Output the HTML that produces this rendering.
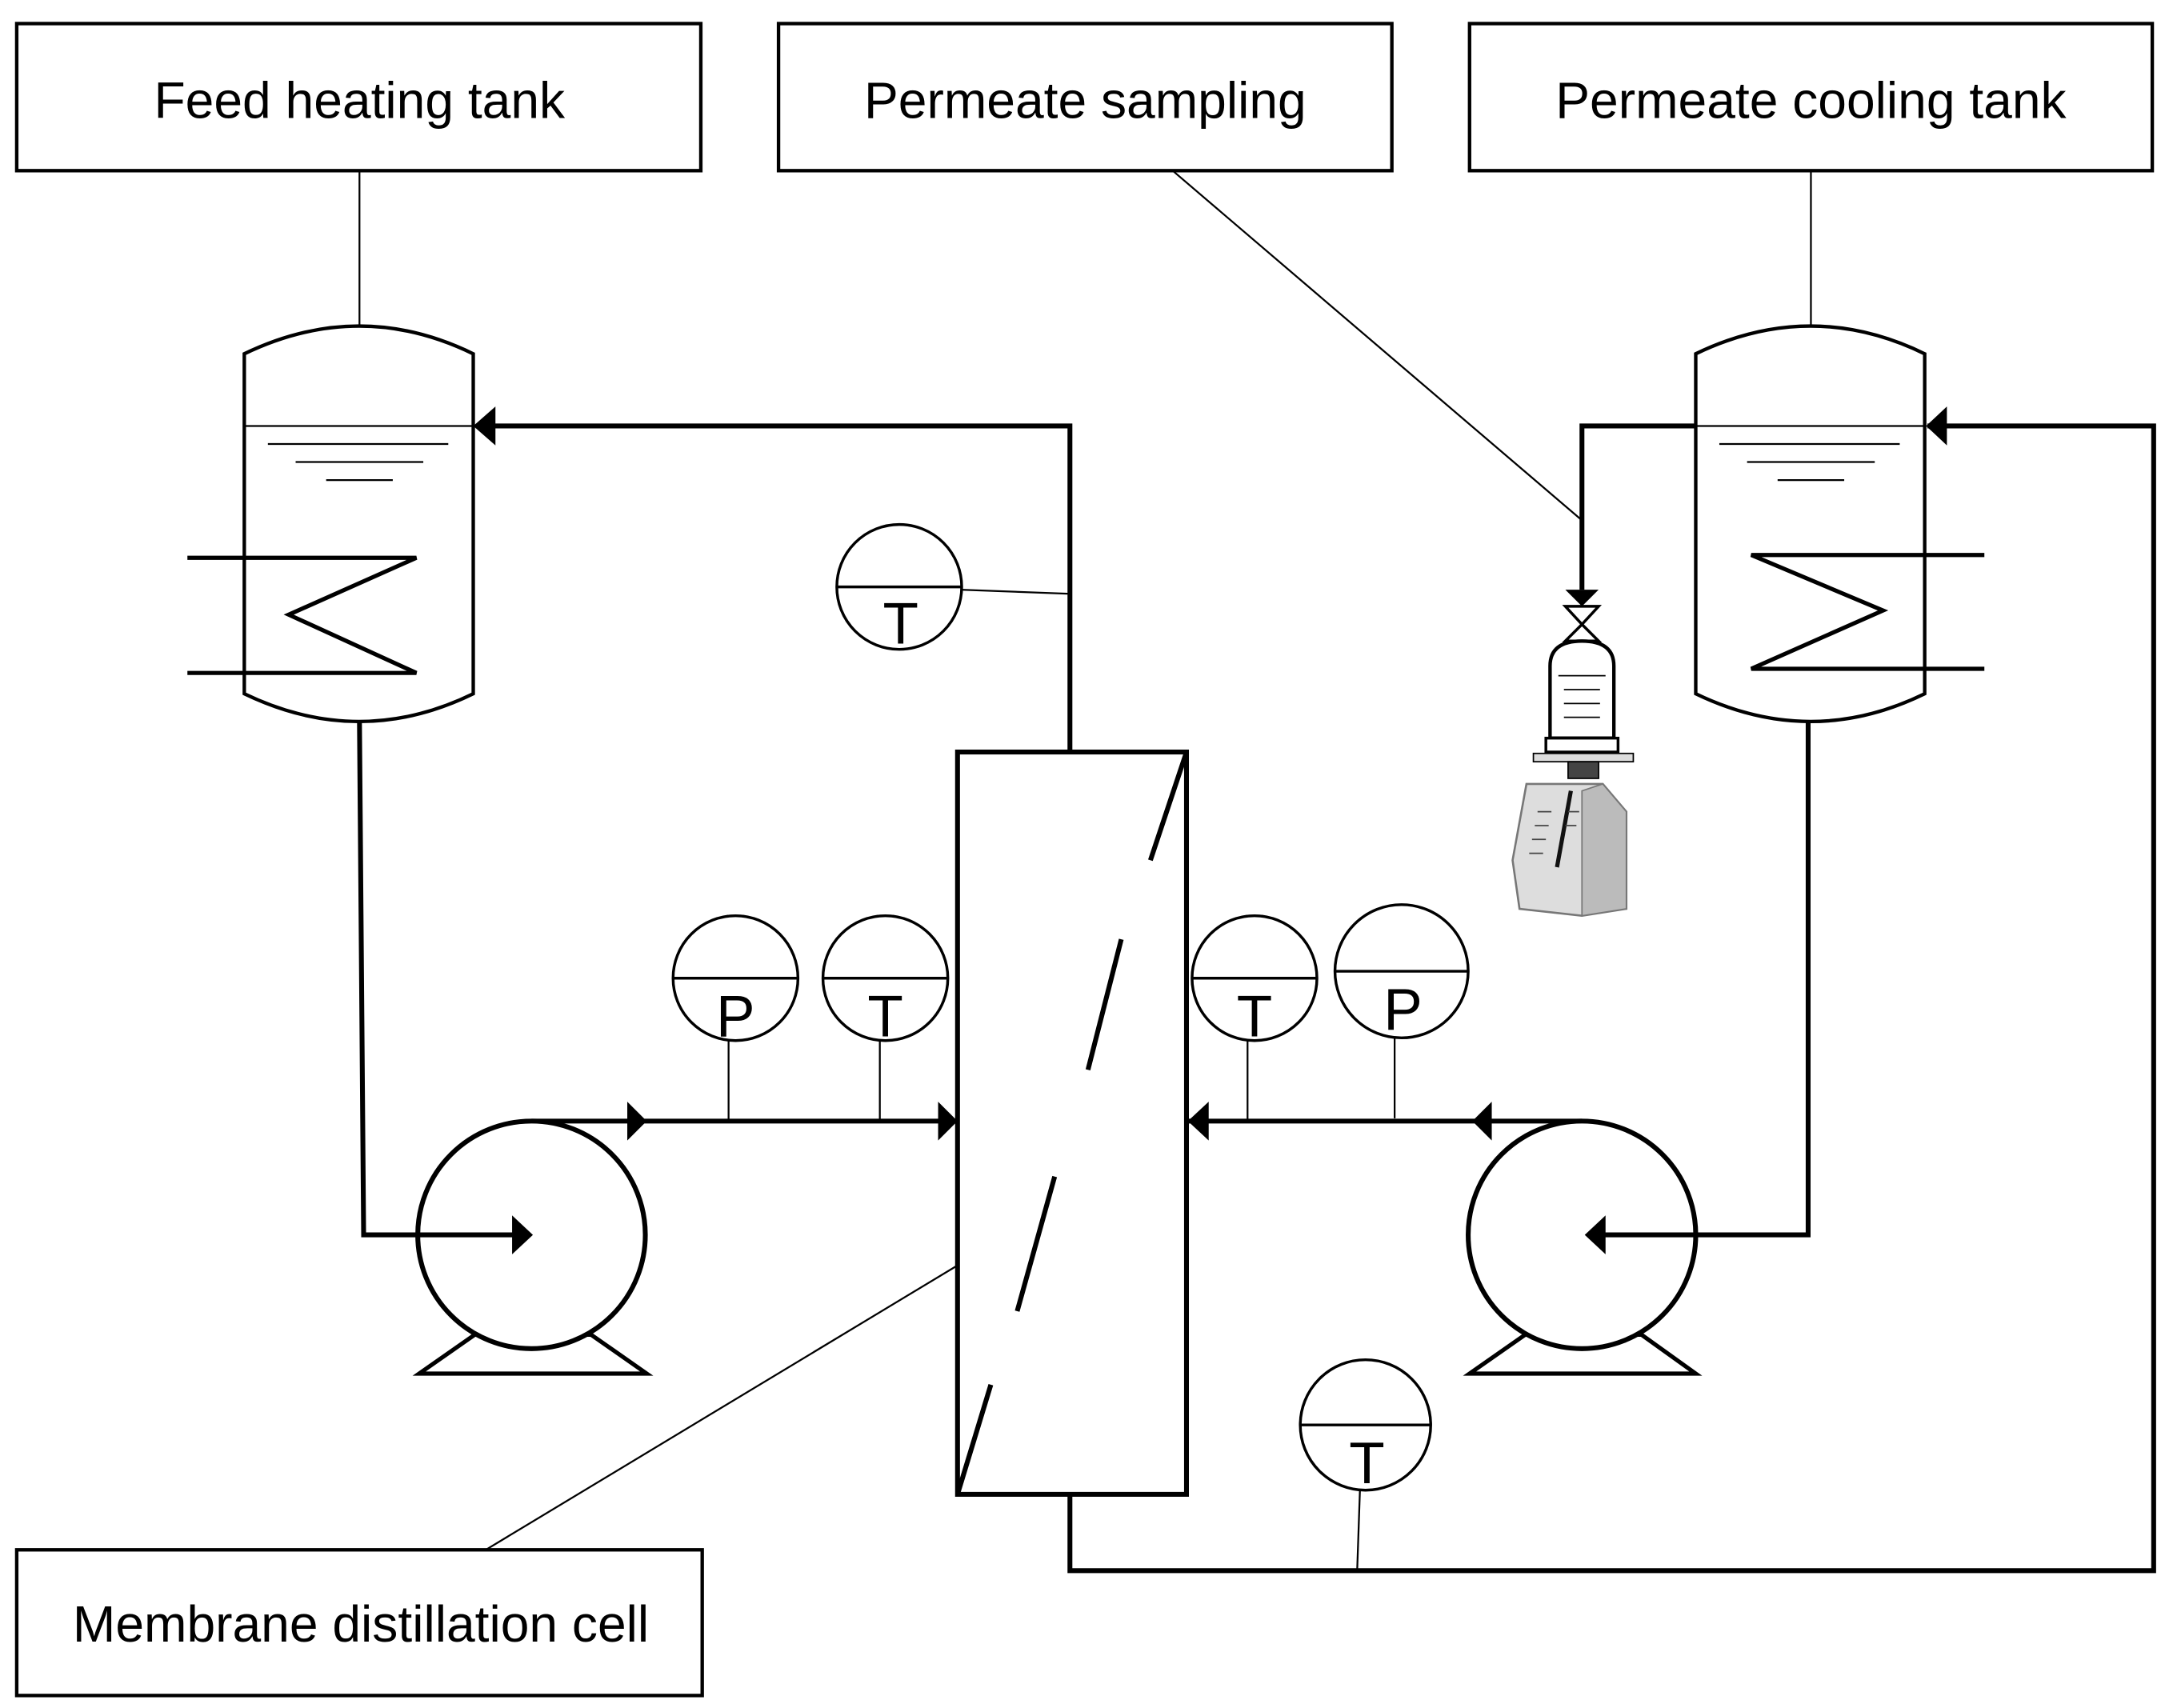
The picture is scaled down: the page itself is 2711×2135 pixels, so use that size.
<!DOCTYPE html>
<html><head><meta charset="utf-8"><style>
html,body{margin:0;padding:0;background:#fff;}
svg{display:block;}
text{font-family:"Liberation Sans",sans-serif;fill:#000;}
</style></head><body>
<svg width="2711" height="2135" viewBox="0 0 1563 1231" xmlns="http://www.w3.org/2000/svg">
<g fill="none" stroke="#000">
<rect x="12" y="17" width="493" height="106" stroke-width="2.5"/>
<rect x="561" y="17" width="442" height="106" stroke-width="2.5"/>
<rect x="1059" y="17" width="492" height="106" stroke-width="2.5"/>
<rect x="12" y="1117" width="494" height="105" stroke-width="2.5"/>
<line x1="259" y1="123" x2="259" y2="235" stroke-width="1.3"/>
<line x1="1305" y1="123" x2="1305" y2="235" stroke-width="1.3"/>
<line x1="845" y1="123" x2="1140" y2="375" stroke-width="1.3"/>
<line x1="690" y1="912" x2="350" y2="1117" stroke-width="1.3"/>
<path d="M176,500 L176,255 Q259,215 341,255 L341,500 Q259,540 176,500 Z" stroke-width="2.5" fill="#fff"/>
<line x1="176" y1="307" x2="341" y2="307" stroke-width="1.3"/>
<line x1="193" y1="320" x2="323" y2="320" stroke-width="1.3"/>
<line x1="213" y1="333" x2="305" y2="333" stroke-width="1.3"/>
<line x1="235" y1="346" x2="283" y2="346" stroke-width="1.3"/>
<path d="M135,402 L300,402 L208,443 L300,485 L135,485" stroke-width="3"/>
<path d="M1222,500 L1222,255 Q1305,215 1387,255 L1387,500 Q1305,540 1222,500 Z" stroke-width="2.5" fill="#fff"/>
<line x1="1222" y1="307" x2="1387" y2="307" stroke-width="1.3"/>
<line x1="1239" y1="320" x2="1369" y2="320" stroke-width="1.3"/>
<line x1="1259" y1="333" x2="1351" y2="333" stroke-width="1.3"/>
<line x1="1281" y1="346" x2="1329" y2="346" stroke-width="1.3"/>
<path d="M1430,400 L1262,400 L1357,440 L1262,482 L1430,482" stroke-width="3"/>
<path d="M771,542 L771,307 L343,307" stroke-width="3.5"/>
<polygon points="357,293 341,307 357,321" fill="#000" stroke="none"/>
<path d="M383,808 L690,808" stroke-width="3.5"/>
<polygon points="452,794 466,808 452,822" fill="#000" stroke="none"/>
<polygon points="676,794 690,808 676,822" fill="#000" stroke="none"/>
<path d="M855,808 L1140,808" stroke-width="3.5"/>
<polygon points="871,794 856,808 871,822" fill="#000" stroke="none"/>
<polygon points="1075,794 1061,808 1075,822" fill="#000" stroke="none"/>
<path d="M771,1077 L771,1132 L1552,1132 L1552,307 L1389,307" stroke-width="3.5"/>
<polygon points="1403,293 1388,307 1403,321" fill="#000" stroke="none"/>
<path d="M1222,307 L1140,307 L1140,425" stroke-width="3.5"/>
<polygon points="1128,425 1152,425 1140,437" fill="#000" stroke="none"/>
<polygon points="302,990 342,962 426,962 466,990" stroke-width="3" fill="#fff"/>
<circle cx="383" cy="890" r="82" stroke-width="3.5" fill="#fff"/>
<polygon points="1059,990 1099,962 1183,962 1222,990" stroke-width="3" fill="#fff"/>
<circle cx="1140" cy="890" r="82" stroke-width="3.5" fill="#fff"/>
<path d="M259,520 L262,890 L372,890" stroke-width="3.5"/>
<polygon points="369,876 384,890 369,904" fill="#000" stroke="none"/>
<path d="M1303,520 L1303,890 L1152,890" stroke-width="3.5"/>
<polygon points="1157,876 1142,890 1157,904" fill="#000" stroke="none"/>
<rect x="690" y="542" width="165" height="535" stroke-width="3.5" fill="#fff"/>
<line x1="855" y1="542" x2="829" y2="620" stroke-width="3.5"/>
<line x1="808" y1="677" x2="784" y2="771" stroke-width="3.5"/>
<line x1="760" y1="848" x2="733" y2="945" stroke-width="3.5"/>
<line x1="714" y1="998" x2="690" y2="1077" stroke-width="3.5"/>
<line x1="692" y1="425" x2="771" y2="428" stroke-width="1.3"/>
<line x1="525" y1="750" x2="525" y2="808" stroke-width="1.3"/>
<line x1="634" y1="750" x2="634" y2="808" stroke-width="1.3"/>
<line x1="899" y1="750" x2="899" y2="808" stroke-width="1.3"/>
<line x1="1005" y1="748" x2="1005" y2="806" stroke-width="1.3"/>
<line x1="980" y1="1074" x2="978" y2="1132" stroke-width="1.3"/>
<g stroke-width="2">
<circle cx="648" cy="423" r="45" fill="#fff"/><line x1="603" y1="423" x2="693" y2="423"/>
<circle cx="530" cy="705" r="45" fill="#fff"/><line x1="485" y1="705" x2="575" y2="705"/>
<circle cx="638" cy="705" r="45" fill="#fff"/><line x1="593" y1="705" x2="683" y2="705"/>
<circle cx="904" cy="705" r="45" fill="#fff"/><line x1="859" y1="705" x2="949" y2="705"/>
<circle cx="1010" cy="700" r="48" fill="#fff"/><line x1="962" y1="700" x2="1058" y2="700"/>
<circle cx="984" cy="1027" r="47" fill="#fff"/><line x1="937" y1="1027" x2="1031" y2="1027"/>
</g>
<path d="M1128,437 L1152,437 L1140,450 Z M1128,462 L1152,462 L1140,450 Z" stroke-width="2" fill="#fff"/>
<path d="M1117,532 L1117,480 Q1117,462 1140,462 Q1163,462 1163,480 L1163,532 Z" stroke-width="2.5" fill="#fff"/>
<line x1="1123" y1="487" x2="1157" y2="487" stroke-width="1"/>
<line x1="1127" y1="497" x2="1153" y2="497" stroke-width="1"/>
<line x1="1127" y1="507" x2="1153" y2="507" stroke-width="1"/>
<line x1="1127" y1="517" x2="1153" y2="517" stroke-width="1"/>
<rect x="1114" y="532" width="52" height="10" stroke-width="2" fill="#fff"/>
<rect x="1105" y="543" width="72" height="6" stroke-width="1" fill="#ddd"/>
<rect x="1130" y="549" width="22" height="12" stroke-width="1" fill="#444"/>
<path d="M1100,565 L1155,565 L1172,585 L1172,655 L1140,660 L1095,655 L1090,620 Z" stroke="#777" stroke-width="1.5" fill="#ddd"/>
<path d="M1155,565 L1172,585 L1172,655 L1140,660 L1140,570 Z" fill="#bbb" stroke="#777" stroke-width="1"/>
<line x1="1132" y1="570" x2="1122" y2="625" stroke="#111" stroke-width="3"/>
<g stroke="#444" stroke-width="1"><line x1="1108" y1="585" x2="1118" y2="585"/><line x1="1106" y1="595" x2="1116" y2="595"/><line x1="1104" y1="605" x2="1114" y2="605"/><line x1="1102" y1="615" x2="1112" y2="615"/><line x1="1130" y1="585" x2="1138" y2="585"/><line x1="1128" y1="595" x2="1136" y2="595"/></g>
</g>
<g font-size="37" text-anchor="middle">
<text x="259" y="85">Feed heating tank</text>
<text x="782" y="85">Permeate sampling</text>
<text x="1305" y="85">Permeate cooling tank</text>
<text x="260" y="1183">Membrane distillation cell</text>
</g>
<g font-size="42" text-anchor="middle">
<text x="649" y="464">T</text>
<text x="530" y="747">P</text>
<text x="638" y="747">T</text>
<text x="904" y="747">T</text>
<text x="1011" y="742">P</text>
<text x="985" y="1069">T</text>
</g>
</svg>
</body></html>
